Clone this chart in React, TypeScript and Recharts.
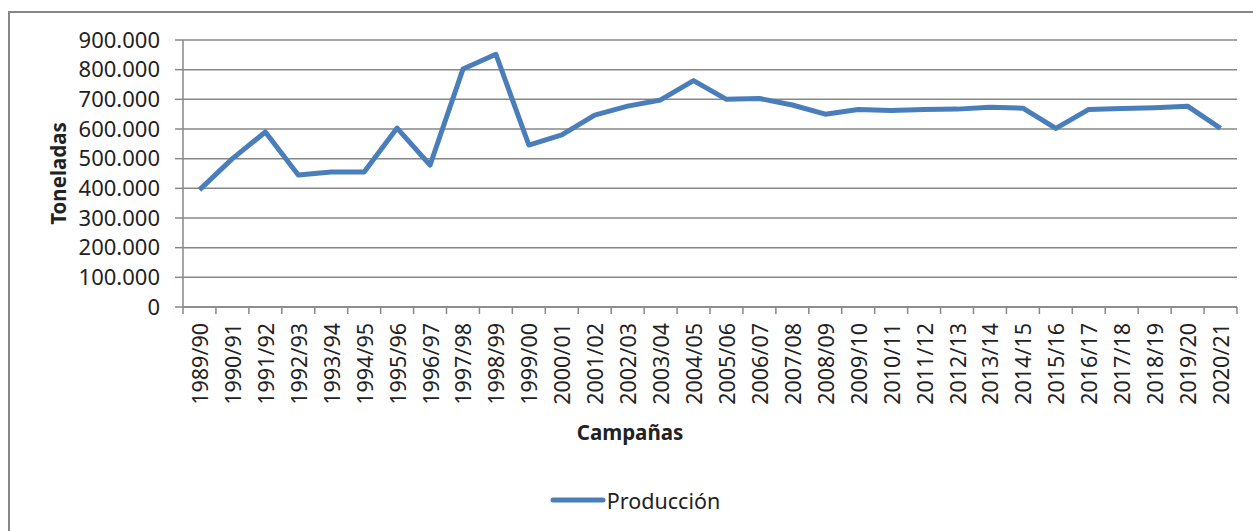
import { LineChart, Line, XAxis, YAxis, CartesianGrid, Legend } from 'recharts';

const CAMPANAS = [
  '1989/90', '1990/91', '1991/92', '1992/93', '1993/94', '1994/95', '1995/96', '1996/97',
  '1997/98', '1998/99', '1999/00', '2000/01', '2001/02', '2002/03', '2003/04', '2004/05',
  '2005/06', '2006/07', '2007/08', '2008/09', '2009/10', '2010/11', '2011/12', '2012/13',
  '2013/14', '2014/15', '2015/16', '2016/17', '2017/18', '2018/19', '2019/20', '2020/21',
];

const PRODUCCION = [
  395000, 500000, 590000, 445000, 455000, 455000, 603000, 478000,
  802000, 852000, 546000, 580000, 647000, 677000, 698000, 763000,
  700000, 703000, 681000, 650000, 666000, 662000, 666000, 667000,
  673000, 670000, 602000, 666000, 669000, 672000, 677000, 602000,
];

const Y_TICKS = [0, 100000, 200000, 300000, 400000, 500000, 600000, 700000, 800000, 900000];

const FONT = '"Noto Sans", sans-serif';
const GRID = '#878787';
const TEXT = '#222';
const BLUE = '#4A7EBB';

// points sit in the middle of each category, tick marks on the boundaries
const data = CAMPANAS.map((campana, i) => ({ x: i + 0.5, campana, produccion: PRODUCCION[i] }));
const xTicks = Array.from({ length: CAMPANAS.length * 2 + 1 }, (_, i) => i / 2);

const formatTons = (v: number) => String(v).replace(/\B(?=(\d{3})+(?!\d))/g, '.');

function CampanaTick({ x, y, payload }: any) {
  const v = payload.value as number;
  if (Number.isInteger(v)) {
    return <line x1={x} x2={x} y1={y} y2={y + 7} stroke={GRID} strokeWidth={1.5} />;
  }
  const ty = y + 16;
  return (
    <text
      x={x}
      y={ty}
      transform={`rotate(-90 ${x} ${ty})`}
      textAnchor="end"
      dominantBaseline="central"
      fontSize={21.5}
      fontFamily={FONT}
      fill={TEXT}
    >
      {CAMPANAS[Math.floor(v)]}
    </text>
  );
}

function LegendContent() {
  return (
    <div style={{ display: 'flex', justifyContent: 'center', alignItems: 'center', height: 30, paddingLeft: 33 }}>
      <svg width={56} height={10} style={{ display: 'block' }}>
        <line x1={3} x2={53} y1={5} y2={5} stroke={BLUE} strokeWidth={5} strokeLinecap="round" />
      </svg>
      <span style={{ fontFamily: FONT, fontSize: 21.5, color: TEXT, marginLeft: 1 }}>Producción</span>
    </div>
  );
}

export default function App() {
  return (
    <div style={{ position: 'relative', width: 1253, height: 531, overflow: 'hidden', background: '#fff' }}>
      <style>{'body{margin:0}'}</style>
      <div
        style={{
          position: 'absolute',
          left: 8,
          top: 11,
          width: 1245,
          height: 520,
          borderTop: `2px solid ${GRID}`,
          borderLeft: `2px solid ${GRID}`,
          boxSizing: 'border-box',
        }}
      />
      <div style={{ position: 'absolute', left: 0, top: 0 }}>
        <LineChart width={1253} height={531} data={data} margin={{ top: 40, right: 16, left: 0, bottom: 16 }}>
          <CartesianGrid vertical={false} stroke={GRID} strokeWidth={1.5} />
          <XAxis
            dataKey="x"
            type="number"
            domain={[0, CAMPANAS.length]}
            ticks={xTicks}
            interval={0}
            height={178}
            tickSize={0}
            tickMargin={0}
            tickLine={false}
            axisLine={{ stroke: GRID, strokeWidth: 1.5 }}
            tick={<CampanaTick />}
            label={{
              content: ({ viewBox }: any) => (
                <text
                  x={viewBox.x + 447}
                  y={viewBox.y + 125}
                  textAnchor="middle"
                  dominantBaseline="central"
                  fontSize={20.5}
                  fontWeight="bold"
                  fontFamily={FONT}
                  fill={TEXT}
                >
                  Campañas
                </text>
              ),
            }}
          />
          <YAxis
            width={183}
            domain={[0, 900000]}
            ticks={Y_TICKS}
            interval={0}
            tickFormatter={formatTons}
            tickSize={8}
            tickMargin={15}
            tickLine={{ stroke: GRID, strokeWidth: 1.5 }}
            axisLine={{ stroke: GRID, strokeWidth: 1.5 }}
            tick={{ fontSize: 22, fontFamily: FONT, fill: TEXT }}
            label={{
              content: ({ viewBox }: any) => {
                const cx = viewBox.x + 58;
                const cy = viewBox.y + viewBox.height / 2;
                return (
                  <text
                    x={cx}
                    y={cy}
                    transform={`rotate(-90 ${cx} ${cy})`}
                    textAnchor="middle"
                    dominantBaseline="central"
                    fontSize={20.5}
                    fontWeight="bold"
                    fontFamily={FONT}
                    fill={TEXT}
                  >
                    Toneladas
                  </text>
                );
              },
            }}
          />
          <Legend verticalAlign="bottom" height={30} content={<LegendContent />} />
          <Line
            type="linear"
            dataKey="produccion"
            name="Producción"
            stroke={BLUE}
            strokeWidth={5}
            dot={false}
            activeDot={false}
            strokeLinejoin="round"
            isAnimationActive={false}
          />
        </LineChart>
      </div>
    </div>
  );
}
